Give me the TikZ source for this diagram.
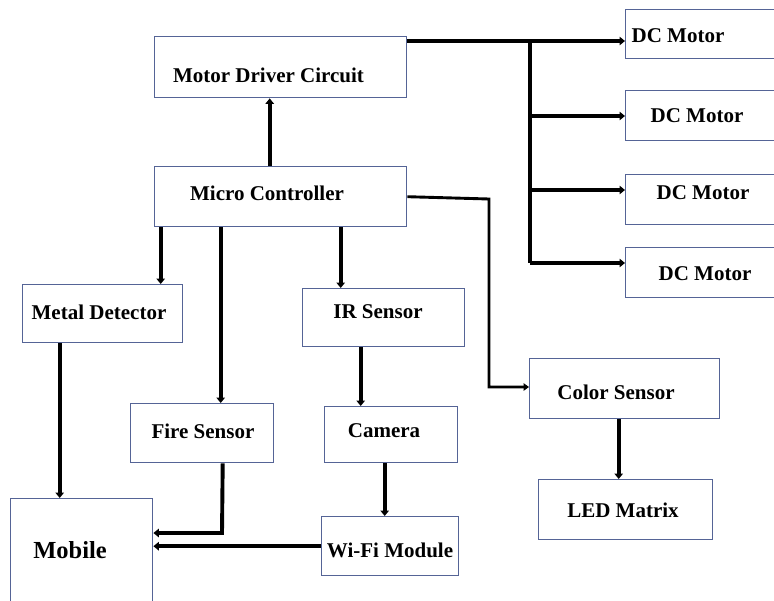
\documentclass[tikz,border=0pt]{standalone}
\usepackage{fontspec}
\setmainfont{Liberation Serif}
\usetikzlibrary{arrows.meta,calc}
\definecolor{boxc}{RGB}{85,100,150}
\tikzset{
  blk/.style={draw=boxc,line width=1.4pt,fill=white,inner sep=0pt,anchor=north west},
  lbl/.style={font=\bfseries\fontsize{21}{25}\selectfont,inner sep=0pt},
  arr/.style={line width=3.9pt,-{Triangle[length=5.5pt,width=8.5pt]}},
  arrthin/.style={line width=2.9pt,-{Triangle[length=5.5pt,width=7.5pt]}},
  ln/.style={line width=3.9pt},
}
\begin{document}
\begin{tikzpicture}[x=1pt,y=-1pt]
\useasboundingbox (0,0) rectangle (774,600);
% boxes (name, left, top, right, bottom)
\node[blk,minimum width=252pt,minimum height=61pt] (mdc) at (154,36) {};
\node[blk,minimum width=252pt,minimum height=60pt] (mc) at (154,166) {};
\node[blk,minimum width=155pt,minimum height=49pt] (dc1) at (625,9) {};
\node[blk,minimum width=155pt,minimum height=50pt] (dc2) at (625,90) {};
\node[blk,minimum width=155pt,minimum height=50pt] (dc3) at (625,174) {};
\node[blk,minimum width=155pt,minimum height=50pt] (dc4) at (625,247) {};
\node[blk,minimum width=160pt,minimum height=58pt] (md) at (22,284) {};
\node[blk,minimum width=162pt,minimum height=58pt] (ir) at (302,288) {};
\node[blk,minimum width=143pt,minimum height=59pt] (fire) at (130,403) {};
\node[blk,minimum width=133pt,minimum height=56pt] (cam) at (324,406) {};
\node[blk,minimum width=142pt,minimum height=110pt] (mob) at (10,498) {};
\node[blk,minimum width=137pt,minimum height=59pt] (wifi) at (321,516) {};
\node[blk,minimum width=190pt,minimum height=60pt] (color) at (529,358) {};
\node[blk,minimum width=174pt,minimum height=60pt] (led) at (538,479) {};
% labels
\node[lbl] (mdct) at (268.5,75) {Motor Driver Circuit};
\node[lbl] (mct) at (267,193) {Micro Controller};
\node[lbl] (dc1t) at (678,36) {DC Motor};
\node[lbl] (dc2t) at (697,116) {DC Motor};
\node[lbl] (dc3t) at (703,193) {DC Motor};
\node[lbl] (dc4t) at (705,274) {DC Motor};
\node[lbl] (mdt) at (99,312) {Metal Detector};
\node[lbl] (irt) at (378,312) {IR Sensor};
\node[lbl] (firet) at (203,431) {Fire Sensor};
\node[lbl] (camt) at (384,431) {Camera};
\node[lbl,font=\bfseries\fontsize{24.5}{28}\selectfont] (mobt) at (70,550) {Mobile};
\node[lbl] (wifit) at (390,550) {Wi-Fi Module};
\node[lbl] (colort) at (616,392) {Color Sensor};
\node[lbl] (ledt) at (623,510) {LED Matrix};
% connectors
\coordinate (q0) at ([xshift=-11pt]mc.north);
\draw[arr] (q0) -- (q0 |- mdc.south);
\coordinate (j0) at (530,41);
\coordinate (j2) at (530,116);
\coordinate (j3) at (530,190);
\coordinate (j4) at (530,263);
\draw[ln] (mdc.east |- j0) -- (j0);
\draw[arr] (j0) -- (j0 -| dc1.west);
\draw[ln] (j0) -- (j4);
\draw[arr] (j2) -- (j2 -| dc2.west);
\draw[arr] (j3) -- (j3 -| dc3.west);
\draw[arr] (j4) -- (j4 -| dc4.west);
\coordinate (c1) at (489,199);
\coordinate (c2) at (489,387);
\draw[arrthin] (mc.east) -- (c1) -- (c2) -- (c2 -| color.west);
\coordinate (p1) at ([xshift=-120pt]mc.south);
\draw[arr] (p1) -- (p1 |- md.north);
\coordinate (p2) at ([xshift=-60pt]mc.south);
\draw[arr] (p2) -- (p2 |- fire.north);
\coordinate (p3) at ([xshift=60pt]mc.south);
\draw[arr] (p3) -- (p3 |- ir.north);
\coordinate (p4) at ([xshift=-43pt]md.south);
\draw[arr] (p4) -- (p4 |- mob.north);
\coordinate (p5) at ([xshift=-23pt]ir.south);
\draw[arr] (p5) -- (p5 |- cam.north);
\coordinate (p6) at ([xshift=-6.5pt]cam.south);
\draw[arr] (p6) -- (p6 |- wifi.north);
\coordinate (p7) at ([xshift=20.5pt]fire.south);
\coordinate (p8) at (222,533);
\draw[arr] (p7) -- (p8) -- (p8 -| mob.east);
\draw[arr] (wifi.west) -- (wifi.west -| mob.east);
\coordinate (p9) at ([xshift=-6pt]color.south);
\draw[arr] (p9) -- (p9 |- led.north);
\end{tikzpicture}
\end{document}
